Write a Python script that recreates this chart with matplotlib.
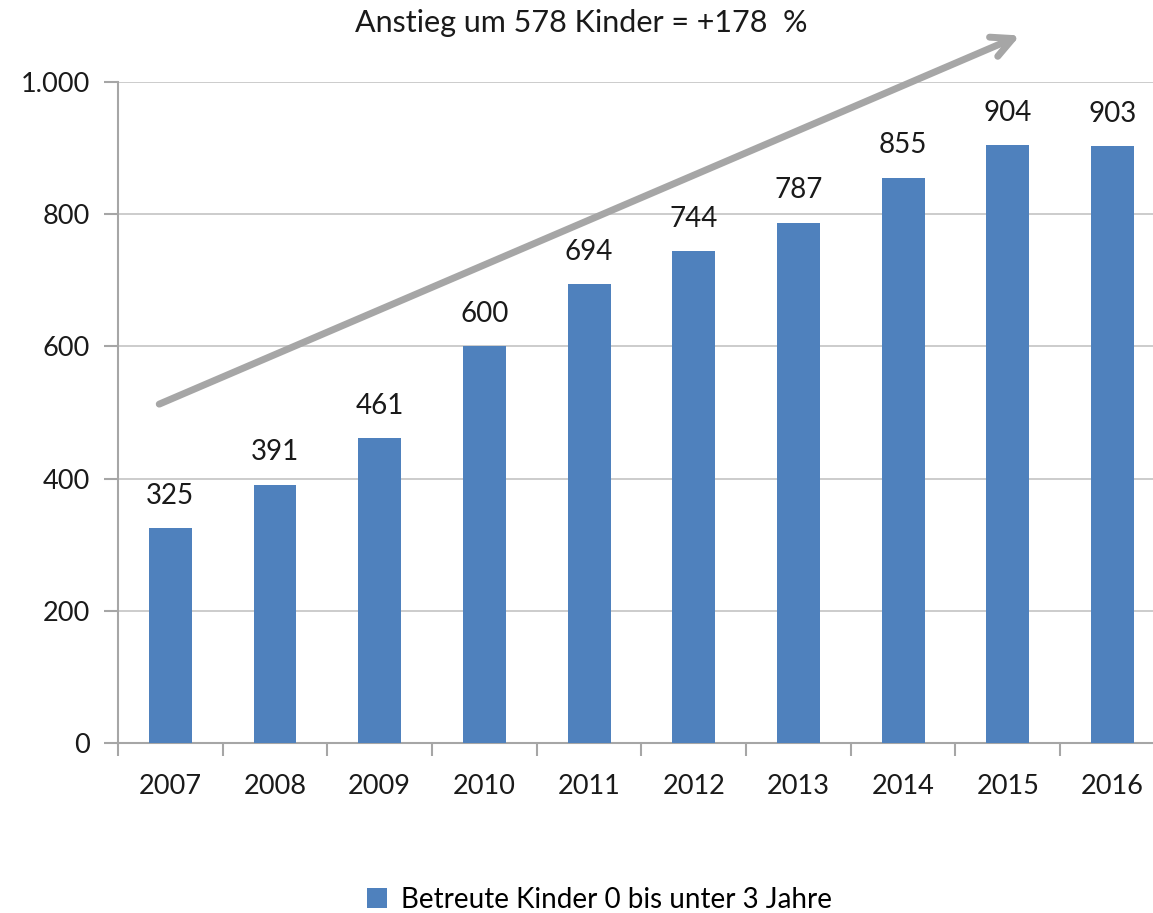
import matplotlib
matplotlib.use("Agg")
import matplotlib.pyplot as plt
import numpy as np

plt.rcParams['font.family'] = ['Lato', 'DejaVu Sans']

# ========================== DATEN ==========================
jahre = ['2007', '2008', '2009', '2010', '2011', '2012', '2013', '2014', '2015', '2016']
kinder = [325, 391, 461, 600, 694, 744, 787, 855, 904, 903]
y_ticks = [0, 200, 400, 600, 800, 1000]
y_labels = ['0', '200', '400', '600', '800', '1.000']
titel = "Anstieg um 578 Kinder = +178  %"
legende = "Betreute Kinder 0 bis unter 3 Jahre"

BAR_COLOR = '#4F81BD'
GRID_COLOR = '#c8c8c8'

fig = plt.figure(figsize=(11.53, 9.13), dpi=100)
# Achse ragt rechts etwas über den Bildrand hinaus (wie im Original)
ax = fig.add_axes([0.1023, 0.1862, 0.908, 0.724])

x = np.arange(len(jahre))
bars = ax.bar(x, kinder, width=0.41, color=BAR_COLOR, label=legende, zorder=3)

for xi, val in zip(x, kinder):
    ax.annotate(f'{val}', (xi, val), xytext=(0, 14), textcoords='offset points',
                ha='center', va='bottom', fontsize=20, color='#1a1a1a')

ax.set_xlim(-0.5, len(jahre) - 0.5)
ax.set_ylim(0, 1000)
ax.set_yticks(y_ticks)
ax.set_yticklabels(y_labels, fontsize=19.5, color='#1a1a1a')
ax.set_xticks(x)
ax.set_xticklabels(jahre, fontsize=19.5, color='#1a1a1a')
ax.set_xticks(np.arange(len(jahre) + 1) - 0.5, minor=True)
ax.tick_params(axis='x', which='major', length=0, pad=22)
ax.tick_params(axis='x', which='minor', length=9, width=1.5, color='#a6a6a6', direction='out')
ax.tick_params(axis='y', length=10, width=1.5, color='#a6a6a6', pad=10)
ax.grid(axis='y', color=GRID_COLOR, linewidth=1.3, zorder=0)

for s in ['top', 'right']:
    ax.spines[s].set_visible(False)
for s in ['left', 'bottom']:
    ax.spines[s].set_color('#a6a6a6')
    ax.spines[s].set_linewidth(1.5)

# Pfeil (Trend)
ax.annotate('', xy=(8.14, 1072), xytext=(-0.13, 511), xycoords='data',
            arrowprops=dict(arrowstyle='->,head_length=1.5,head_width=0.75',
                            color='#a6a6a6', lw=5),
            annotation_clip=False)

fig.text(0.504, 0.975, titel, ha='center', va='center', fontsize=22, color='#1a1a1a')

fig.legend(loc='lower center', bbox_to_anchor=(0.52, -0.027), frameon=False, fontsize=20,
           handlelength=0.7, handleheight=0.7, handletextpad=0.5)

plt.savefig('out.png', dpi=100)
plt.close()
